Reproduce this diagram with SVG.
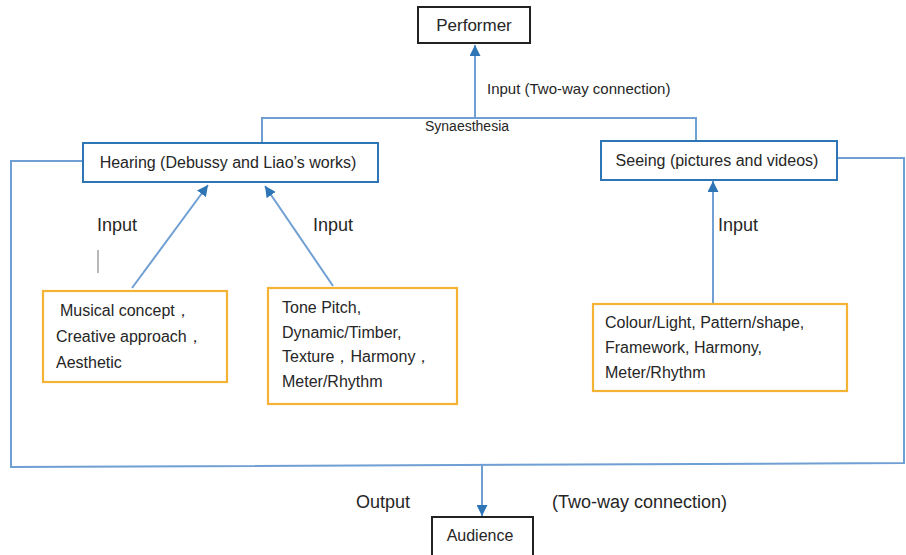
<svg xmlns="http://www.w3.org/2000/svg" width="906" height="555" viewBox="0 0 906 555">
<style>
text{font-family:"Liberation Sans",Arial,sans-serif;fill:#262626;}
.conn{fill:none;stroke:#6f9fd3;stroke-width:2;}
.blue{fill:#fff;stroke:#2e75b6;stroke-width:2;}
.orange{fill:#fff;stroke:#f5b335;stroke-width:2.2;}
.black{fill:#fff;stroke:#222;stroke-width:2;}
.t16{font-size:16px;}
.t18{font-size:18px;}
</style>
<defs>
<marker id="ah" viewBox="0 0 10 10" refX="10" refY="5" markerWidth="5.5" markerHeight="5.5" markerUnits="strokeWidth" orient="auto">
<path d="M0,0 L10,5 L0,10 z" fill="#2e75b6"/>
</marker>
</defs>
<rect width="906" height="555" fill="#fff"/>
<g id="connectors">
<line class="conn" x1="475" y1="118" x2="475" y2="45" marker-end="url(#ah)"/>
<path class="conn" d="M262,143 V118 H696 V141"/>
<path class="conn" d="M83,161 H11 V467 L904,463 V158 H837"/>
<line class="conn" x1="482" y1="464" x2="482" y2="516" marker-end="url(#ah)"/>
<line class="conn" x1="132" y1="288" x2="208" y2="185" marker-end="url(#ah)"/>
<line class="conn" x1="333" y1="286" x2="265" y2="186" marker-end="url(#ah)"/>
<line class="conn" x1="713" y1="304" x2="713" y2="181" marker-end="url(#ah)"/>
<line x1="98" y1="250" x2="98" y2="273" stroke="#a0a0a0" stroke-width="1.5"/>
<text x="487" y="94" style="font-size:15px">Input (Two-way connection)</text>
<text x="425" y="131" style="font-size:14px">Synaesthesia</text>
<text x="97" y="231" class="t18">Input</text>
<text x="313" y="231" class="t18">Input</text>
<text x="718" y="231" class="t18">Input</text>
<text x="356" y="508" class="t18">Output</text>
<text x="552" y="508" class="t18">(Two-way connection)</text>
</g>
<g id="performer">
<rect class="black" x="418" y="7" width="112" height="36"/>
<text x="474" y="31" class="t16" text-anchor="middle" style="font-size:17px">Performer</text>
</g>
<g id="hearing">
<rect class="blue" x="83" y="143" width="295" height="39"/>
<text x="228" y="168" class="t16" text-anchor="middle">Hearing (Debussy and Liao’s works)</text>
</g>
<g id="seeing">
<rect class="blue" x="601" y="141" width="236" height="39"/>
<text x="717" y="166" class="t16" text-anchor="middle">Seeing (pictures and videos)</text>
</g>
<g id="musical">
<rect class="orange" x="43" y="291" width="184" height="91"/>
<text class="t16"><tspan x="60" y="316">Musical concept，</tspan><tspan x="56" y="342">Creative approach，</tspan><tspan x="56" y="368">Aesthetic</tspan></text>
</g>
<g id="tone">
<rect class="orange" x="268" y="288" width="189" height="116"/>
<text class="t16"><tspan x="282" y="313">Tone Pitch,</tspan><tspan x="282" y="338">Dynamic/Timber,</tspan><tspan x="282" y="362">Texture，Harmony，</tspan><tspan x="282" y="387">Meter/Rhythm</tspan></text>
</g>
<g id="colour">
<rect class="orange" x="593" y="304" width="254" height="87"/>
<text class="t16"><tspan x="605" y="328">Colour/Light, Pattern/shape,</tspan><tspan x="605" y="353">Framework, Harmony,</tspan><tspan x="605" y="378">Meter/Rhythm</tspan></text>
</g>
<g id="audience">
<rect class="black" x="432" y="517" width="101" height="50"/>
<text x="480" y="541" class="t16" text-anchor="middle">Audience</text>
</g>
</svg>
